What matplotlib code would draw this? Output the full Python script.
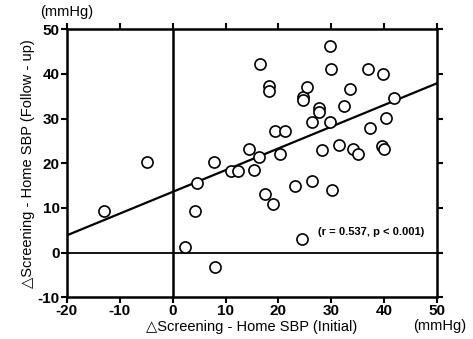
import numpy as np
import matplotlib
matplotlib.use("Agg")
from matplotlib import pyplot as plt

# Data -----------------------------------------------------------------------------
initial = [-13.0, -4.8, 2.3, 4.3, 4.6, 7.9, 8.1, 11.0, 12.3, 14.4, 15.4, 16.4,
           16.5, 17.5, 18.3, 18.3, 19.0, 19.4, 21.2, 20.3, 23.2, 24.4, 24.6, 24.6,
           25.3, 26.3, 26.4, 27.6, 27.6, 28.3, 29.7, 29.9, 29.7, 30.2, 31.5, 32.4,
           33.5, 34.1, 35.1, 36.9, 37.2, 39.7, 39.5, 39.9, 40.3, 41.8]
followup = [9.3, 20.2, 1.3, 9.4, 15.5, 20.2, -3.2, 18.2, 18.3, 23.2, 18.4, 21.4,
            42.2, 13.1, 37.3, 36.1, 10.9, 27.3, 27.3, 22.1, 15.0, 3.0, 34.8, 34.1,
            37.1, 16.0, 29.2, 32.3, 31.6, 23.0, 46.2, 41.2, 29.2, 14.0, 24.1, 32.8,
            36.7, 23.2, 22.0, 41.1, 28.0, 39.9, 23.9, 23.2, 30.2, 34.7]

fit_intercept = 13.6
fit_slope = 0.487
fit_range = [-20, 50]

xticks = [-20, -10, 0, 10, 20, 30, 40, 50]
yticks = [-10, 0, 10, 20, 30, 40, 50]
# -----------------------------------------------------------------------------------

plt.rcParams['font.family'] = ['Liberation Sans', 'DejaVu Sans']
plt.rcParams['axes.unicode_minus'] = False

fig = plt.figure(figsize=(4.73, 3.39), dpi=100)
ax = fig.add_axes([0.141, 0.123, 0.7835, 0.7905])

# reference lines at zero
ax.axvline(0, color='black', lw=1.8, zorder=1)
ax.axhline(0, color='black', lw=1.3, zorder=1)

# regression line
fx = np.array(fit_range, dtype=float)
ax.plot(fx, fit_intercept + fit_slope * fx, color='black', lw=1.6, zorder=2)

# points
ax.plot(initial, followup, 'o', ms=8, mfc='white', mec='black', mew=1.2, zorder=3)

ax.set_xlim(-20, 50)
ax.set_ylim(-10, 50)
ax.set_xticks(xticks)
ax.set_yticks(yticks)

for s in ax.spines.values():
    s.set_linewidth(1.8)
ax.tick_params(direction='out', length=4, width=1.5, top=True, right=True,
               labelsize=11, pad=1)
for lab in ax.get_xticklabels() + ax.get_yticklabels():
    lab.set_fontweight('bold')

ax.set_xlabel("△Screening - Home SBP (Initial)", fontsize=10.5, labelpad=1)
ax.set_ylabel("△Screening - Home SBP (Follow - up)", fontsize=10.5, labelpad=2)

fig.text(0.085, 0.965, "(mmHg)", fontsize=10.5, va='center', ha='left')
fig.text(0.873, 0.038, "(mmHg)", fontsize=10.5, va='center', ha='left')

ax.text(27.5, 4.7, "(r = 0.537, p < 0.001)", fontsize=8, fontweight='bold',
        va='center', ha='left')

fig.savefig("out.png", dpi=100)
